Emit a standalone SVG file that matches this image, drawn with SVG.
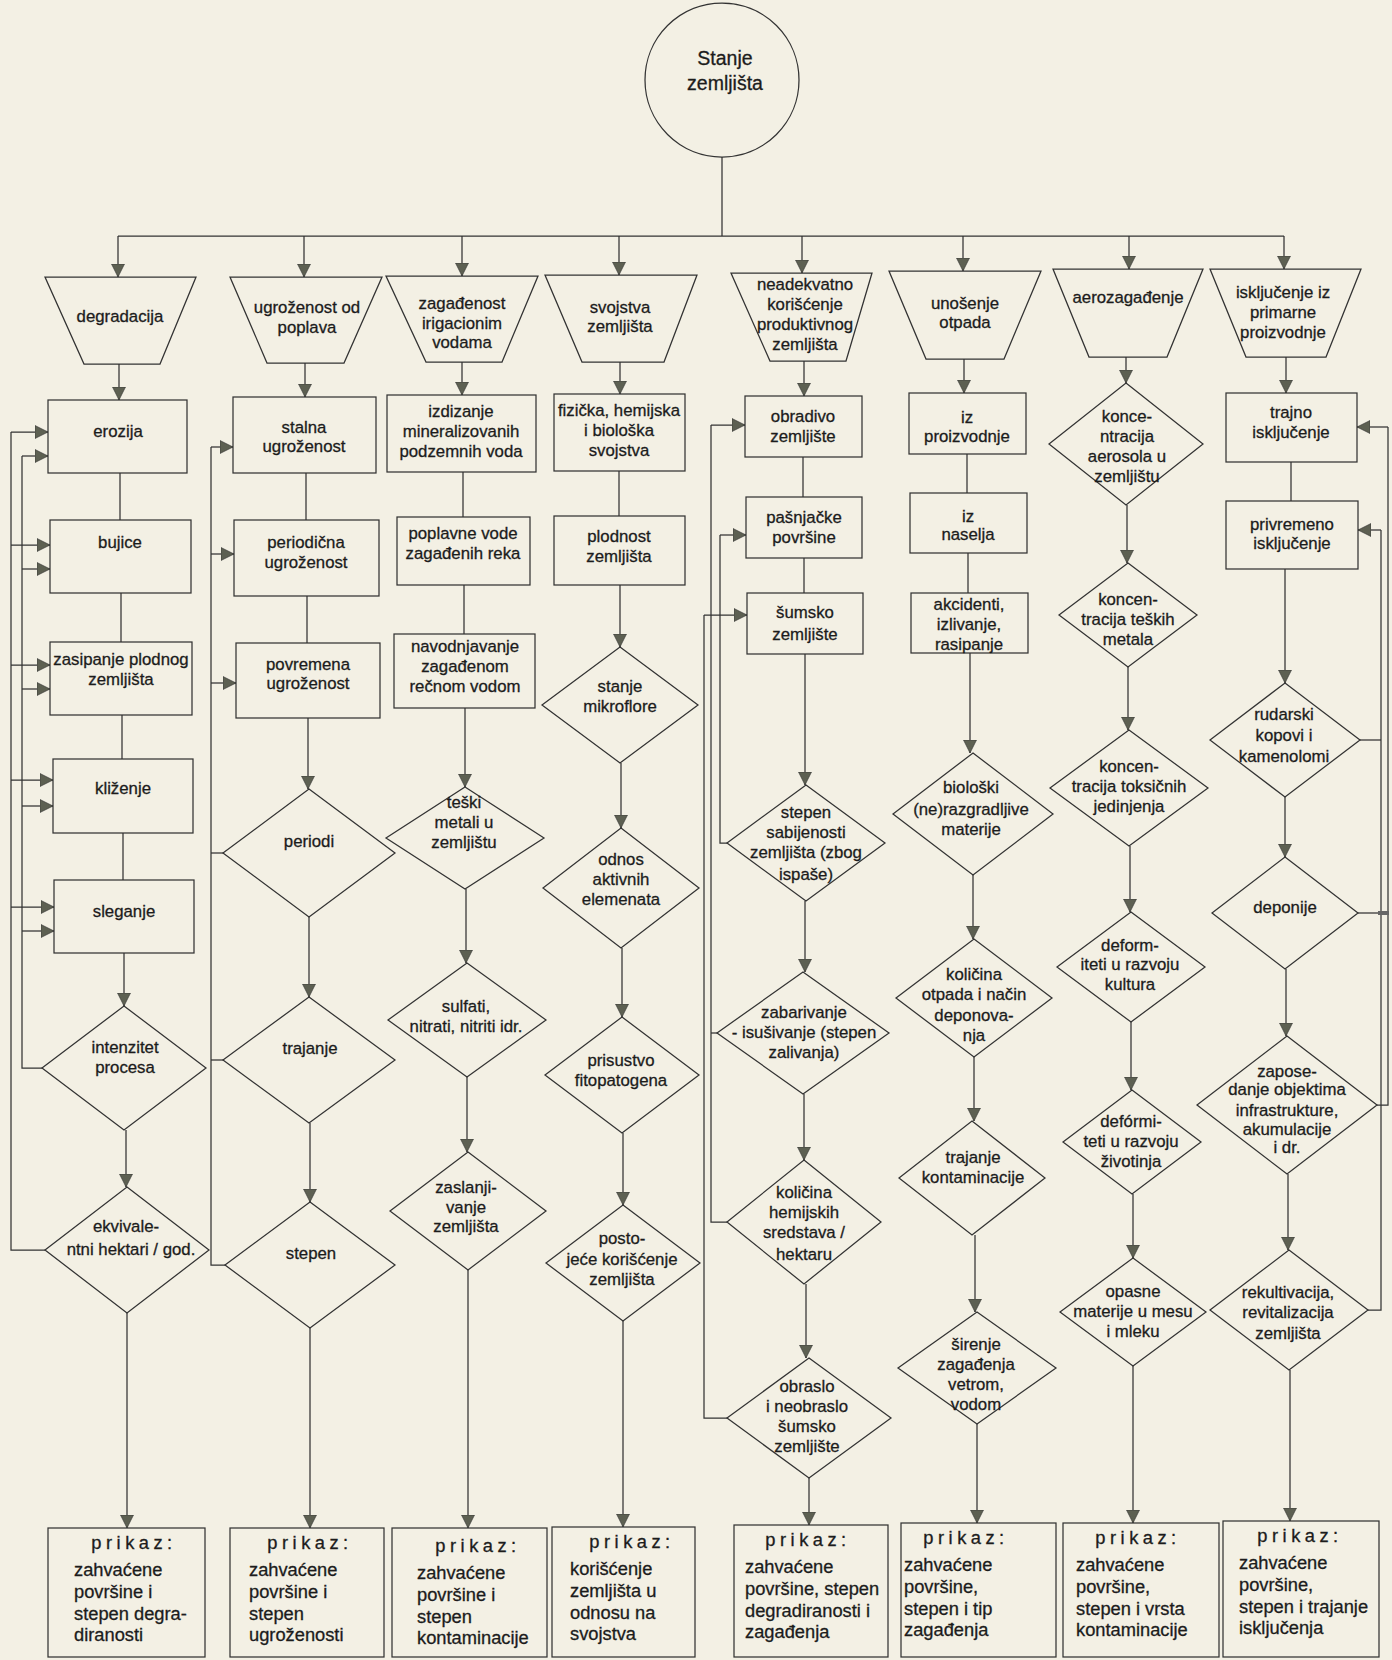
<svg xmlns="http://www.w3.org/2000/svg" width="1392" height="1660" viewBox="0 0 1392 1660">
<defs>
<marker id="ah" markerUnits="userSpaceOnUse" markerWidth="15" markerHeight="15" refX="13" refY="7" orient="auto"><path d="M0,0.5 L13,7 L0,13.5 z" fill="#5d6052" stroke="#333" stroke-width="0.6"/></marker>
<style>
rect.bg{fill:#f3f0e4;stroke:none}
.s{fill:none;stroke:#333;stroke-width:1.25}
#connectors path{fill:none;stroke:#333;stroke-width:1.25}
#connectors path.a{marker-end:url(#ah)}
text{font-family:"Liberation Sans",Arial,sans-serif;font-size:16.8px;fill:#1c1c1c;stroke:#1c1c1c;stroke-width:0.3;text-anchor:middle}
text.big{font-size:19.5px}
text.h{font-size:18.3px;letter-spacing:4.5px}
text.p{font-size:18.3px;text-anchor:start}
</style>
</defs>
<rect class="bg" x="0" y="0" width="1392" height="1660"/>

<g id="connectors">
<path d="M722,157 V236"/>
<path d="M118,236 H1284"/>
<path class="a" d="M118,236 V277"/>
<path class="a" d="M304,236 V277"/>
<path class="a" d="M462,236 V276"/>
<path class="a" d="M619,236 V275"/>
<path class="a" d="M802,236 V273"/>
<path class="a" d="M963,236 V271"/>
<path class="a" d="M1129,236 V269"/>
<path class="a" d="M1284,236 V269"/>

<path class="a" d="M119,364 V400"/>
<path class="a" d="M305,363 V397"/>
<path class="a" d="M462,362 V395"/>
<path class="a" d="M620,362 V394"/>
<path class="a" d="M804,361 V396"/>
<path class="a" d="M964,359 V393"/>
<path class="a" d="M1126,357 V383"/>
<path class="a" d="M1286,357 V393"/>

<path d="M120,473 V520"/>
<path d="M121,593 V642"/>
<path d="M122,715 V759"/>
<path d="M123,833 V880"/>
<path class="a" d="M124,953 V1006"/>
<path class="a" d="M126,1130 V1187"/>
<path class="a" d="M127,1313 V1528"/>

<path d="M306,473 V520"/>
<path d="M307,596 V643"/>
<path class="a" d="M308,718 V789"/>
<path class="a" d="M309,917 V997"/>
<path class="a" d="M310,1123 V1202"/>
<path class="a" d="M310,1328 V1528"/>

<path d="M463,472 V517"/>
<path d="M464,585 V634"/>
<path class="a" d="M465,708 V787"/>
<path class="a" d="M466,889 V963"/>
<path class="a" d="M467,1077 V1152"/>
<path class="a" d="M468,1270 V1528"/>

<path d="M619,471 V516"/>
<path class="a" d="M620,585 V647"/>
<path class="a" d="M621,763 V828"/>
<path class="a" d="M622,948 V1017"/>
<path class="a" d="M623,1133 V1205"/>
<path class="a" d="M623,1321 V1527"/>

<path d="M803,457 V497"/>
<path d="M804,558 V593"/>
<path class="a" d="M805,654 V785"/>
<path class="a" d="M805,901 V972"/>
<path class="a" d="M804,1094 V1160"/>
<path class="a" d="M806,1284 V1358"/>
<path class="a" d="M809,1478 V1525"/>

<path d="M967,454 V493"/>
<path d="M968,553 V593"/>
<path class="a" d="M970,653 V753"/>
<path class="a" d="M973,875 V939"/>
<path class="a" d="M974,1057 V1121"/>
<path class="a" d="M975,1235 V1312"/>
<path class="a" d="M977,1424 V1523"/>

<path class="a" d="M1127,505 V563"/>
<path class="a" d="M1128,667 V730"/>
<path class="a" d="M1130,846 V912"/>
<path class="a" d="M1131,1022 V1090"/>
<path class="a" d="M1133,1194 V1258"/>
<path class="a" d="M1133,1366 V1523"/>

<path d="M1291,462 V501"/>
<path class="a" d="M1285,569 V683"/>
<path class="a" d="M1285,797 V857"/>
<path class="a" d="M1286,969 V1036"/>
<path class="a" d="M1288,1174 V1250"/>
<path class="a" d="M1290,1370 V1521"/>

<path d="M45,1250 H11 V432"/>
<path class="a" d="M11,432 H48"/>
<path class="a" d="M11,545 H50"/>
<path class="a" d="M11,665 H50"/>
<path class="a" d="M11,780 H53"/>
<path class="a" d="M11,907 H54"/>
<path d="M42,1068 H22 V456"/>
<path class="a" d="M22,456 H48"/>
<path class="a" d="M22,569 H50"/>
<path class="a" d="M22,689 H50"/>
<path class="a" d="M22,806 H53"/>
<path class="a" d="M22,931 H54"/>

<path d="M223,853 H211"/>
<path d="M223,1060 H211"/>
<path d="M225,1265 H211 V447"/>
<path class="a" d="M211,447 H233"/>
<path class="a" d="M211,554 H234"/>
<path class="a" d="M211,683 H236"/>

<path d="M727,843 H720 V535"/>
<path class="a" d="M720,535 H746"/>
<path d="M717,1033 H711"/>
<path d="M727,1222 H711 V425"/>
<path class="a" d="M711,425 H745"/>
<path d="M727,1418 H704 V615"/>
<path class="a" d="M704,615 H747"/>

<path d="M1377,1105 H1388 V427"/>
<path class="a" d="M1388,427 H1357"/>
<path d="M1368,1310 H1381 V530"/>
<path class="a" d="M1381,530 H1358"/>
<path d="M1360,740 H1381"/>
<path d="M1358,913 H1388"/>
<rect x="1378" y="911" width="11" height="4" fill="#666"/>
</g>

<g id="n-stanje"><circle class="s" cx="722" cy="80" r="77"/><text class="big" x="725" y="65">Stanje</text><text class="big" x="725" y="90">zemljišta</text></g>

<g id="n-degradacija"><polygon class="s" points="45,277 196,277 160,364 84,364"/><text x="120" y="322">degradacija</text></g>
<g id="n-ugrozenost"><polygon class="s" points="230,277 382,277 344,363 267,363"/><text x="307" y="313">ugroženost od</text><text x="307" y="333">poplava</text></g>
<g id="n-zagadjenost"><polygon class="s" points="386,276 538,276 502,362 426,362"/><text x="462" y="309">zagađenost</text><text x="462" y="329">irigacionim</text><text x="462" y="348">vodama</text></g>
<g id="n-svojstva"><polygon class="s" points="545,275 697,275 664,362 582,362"/><text x="620" y="313">svojstva</text><text x="620" y="332">zemljišta</text></g>
<g id="n-neadekvatno"><polygon class="s" points="731,273 872,273 846,361 770,361"/><text x="805" y="290">neadekvatno</text><text x="805" y="310">korišćenje</text><text x="805" y="330">produktivnog</text><text x="805" y="350">zemljišta</text></g>
<g id="n-unosenje"><polygon class="s" points="889,271 1041,271 1004,359 926,359"/><text x="965" y="309">unošenje</text><text x="965" y="328">otpada</text></g>
<g id="n-aero"><polygon class="s" points="1053,269 1203,269 1167,357 1089,357"/><text x="1128" y="303">aerozagađenje</text></g>
<g id="n-iskljucenje"><polygon class="s" points="1210,269 1361,269 1326,357 1246,357"/><text x="1283" y="298">isključenje iz</text><text x="1283" y="318">primarne</text><text x="1283" y="338">proizvodnje</text></g>

<g id="n-erozija"><rect class="s" x="48" y="400" width="139" height="73"/><text x="118" y="437">erozija</text></g>
<g id="n-bujice"><rect class="s" x="50" y="520" width="141" height="73"/><text x="120" y="548">bujice</text></g>
<g id="n-zasipanje"><rect class="s" x="50" y="642" width="142" height="73"/><text x="121" y="665">zasipanje plodnog</text><text x="121" y="685">zemljišta</text></g>
<g id="n-klizenje"><rect class="s" x="53" y="759" width="140" height="74"/><text x="123" y="794">kliženje</text></g>
<g id="n-sleganje"><rect class="s" x="54" y="880" width="140" height="73"/><text x="124" y="917">sleganje</text></g>
<g id="n-intenzitet"><polygon class="s" points="124,1006 206,1068 124,1130 42,1068"/><text x="125" y="1053">intenzitet</text><text x="125" y="1073">procesa</text></g>
<g id="n-ekvivalentni"><polygon class="s" points="127,1187 209,1250 127,1313 45,1250"/><text x="126" y="1232">ekvivale-</text><text x="131" y="1255">ntni hektari / god.</text></g>
<g id="n-prikaz1"><rect class="s" x="48" y="1528" width="157" height="129"/><text class="h" x="134" y="1549">prikaz:</text><text class="p" x="74" y="1576">zahvaćene</text><text class="p" x="74" y="1598">površine i</text><text class="p" x="74" y="1620">stepen degra-</text><text class="p" x="74" y="1641">diranosti</text></g>

<g id="n-stalna"><rect class="s" x="233" y="397" width="143" height="76"/><text x="304" y="433">stalna</text><text x="304" y="452">ugroženost</text></g>
<g id="n-periodicna"><rect class="s" x="234" y="520" width="145" height="76"/><text x="306" y="548">periodična</text><text x="306" y="568">ugroženost</text></g>
<g id="n-povremena"><rect class="s" x="236" y="643" width="144" height="75"/><text x="308" y="670">povremena</text><text x="308" y="689">ugroženost</text></g>
<g id="n-periodi"><polygon class="s" points="309,789 395,853 309,917 223,853"/><text x="309" y="847">periodi</text></g>
<g id="n-trajanje"><polygon class="s" points="309,997 395,1060 309,1123 223,1060"/><text x="310" y="1054">trajanje</text></g>
<g id="n-stepen"><polygon class="s" points="310,1202 395,1265 310,1328 225,1265"/><text x="311" y="1259">stepen</text></g>
<g id="n-prikaz2"><rect class="s" x="230" y="1528" width="154" height="129"/><text class="h" x="310" y="1549">prikaz:</text><text class="p" x="249" y="1576">zahvaćene</text><text class="p" x="249" y="1598">površine i</text><text class="p" x="249" y="1620">stepen</text><text class="p" x="249" y="1641">ugroženosti</text></g>

<g id="n-izdizanje"><rect class="s" x="387" y="395" width="149" height="77"/><text x="461" y="417">izdizanje</text><text x="461" y="437">mineralizovanih</text><text x="461" y="457">podzemnih voda</text></g>
<g id="n-poplavne"><rect class="s" x="397" y="517" width="133" height="68"/><text x="463" y="539">poplavne vode</text><text x="463" y="559">zagađenih reka</text></g>
<g id="n-navodnjavanje"><rect class="s" x="394" y="634" width="141" height="74"/><text x="465" y="652">navodnjavanje</text><text x="465" y="672">zagađenom</text><text x="465" y="692">rečnom vodom</text></g>
<g id="n-teski"><polygon class="s" points="465,787 544,838 465,889 386,838"/><text x="464" y="808">teški</text><text x="464" y="828">metali u</text><text x="464" y="848">zemljištu</text></g>
<g id="n-sulfati"><polygon class="s" points="467,963 546,1020 467,1077 388,1020"/><text x="466" y="1012">sulfati,</text><text x="466" y="1032">nitrati, nitriti idr.</text></g>
<g id="n-zaslanjivanje"><polygon class="s" points="468,1152 546,1211 468,1270 390,1211"/><text x="466" y="1193">zaslanji-</text><text x="466" y="1213">vanje</text><text x="466" y="1232">zemljišta</text></g>
<g id="n-prikaz3"><rect class="s" x="392" y="1528" width="155" height="129"/><text class="h" x="478" y="1552">prikaz:</text><text class="p" x="417" y="1579">zahvaćene</text><text class="p" x="417" y="1601">površine i</text><text class="p" x="417" y="1623">stepen</text><text class="p" x="417" y="1644">kontaminacije</text></g>

<g id="n-fizicka"><rect class="s" x="554" y="394" width="131" height="77"/><text x="619" y="416">fizička, hemijska</text><text x="619" y="436">i biološka</text><text x="619" y="456">svojstva</text></g>
<g id="n-plodnost"><rect class="s" x="554" y="516" width="131" height="69"/><text x="619" y="542">plodnost</text><text x="619" y="562">zemljišta</text></g>
<g id="n-mikroflora"><polygon class="s" points="620,647 698,705 620,763 542,705"/><text x="620" y="692">stanje</text><text x="620" y="712">mikroflore</text></g>
<g id="n-odnos"><polygon class="s" points="621,828 699,888 621,948 543,888"/><text x="621" y="865">odnos</text><text x="621" y="885">aktivnih</text><text x="621" y="905">elemenata</text></g>
<g id="n-prisustvo"><polygon class="s" points="622,1017 699,1075 622,1133 545,1075"/><text x="621" y="1066">prisustvo</text><text x="621" y="1086">fitopatogena</text></g>
<g id="n-postojece"><polygon class="s" points="623,1205 700,1263 623,1321 546,1263"/><text x="622" y="1244">posto-</text><text x="622" y="1265">jeće korišćenje</text><text x="622" y="1285">zemljišta</text></g>
<g id="n-prikaz4"><rect class="s" x="552" y="1527" width="143" height="130"/><text class="h" x="632" y="1548">prikaz:</text><text class="p" x="570" y="1575">korišćenje</text><text class="p" x="570" y="1597">zemljišta u</text><text class="p" x="570" y="1619">odnosu na</text><text class="p" x="570" y="1640">svojstva</text></g>

<g id="n-obradivo"><rect class="s" x="745" y="396" width="117" height="61"/><text x="803" y="422">obradivo</text><text x="803" y="442">zemljište</text></g>
<g id="n-pasnjacke"><rect class="s" x="746" y="497" width="116" height="61"/><text x="804" y="523">pašnjačke</text><text x="804" y="543">površine</text></g>
<g id="n-sumsko"><rect class="s" x="747" y="593" width="116" height="61"/><text x="805" y="618">šumsko</text><text x="805" y="640">zemljište</text></g>
<g id="n-sabijenost"><polygon class="s" points="806,785 885,843 806,901 727,843"/><text x="806" y="818">stepen</text><text x="806" y="838">sabijenosti</text><text x="806" y="858">zemljišta (zbog</text><text x="806" y="880">ispaše)</text></g>
<g id="n-zabarivanje"><polygon class="s" points="803,972 889,1033 803,1094 717,1033"/><text x="804" y="1018">zabarivanje</text><text x="804" y="1038">- isušivanje (stepen</text><text x="804" y="1058">zalivanja)</text></g>
<g id="n-hemijska"><polygon class="s" points="804,1160 881,1222 804,1284 727,1222"/><text x="804" y="1198">količina</text><text x="804" y="1218">hemijskih</text><text x="804" y="1238">sredstava /</text><text x="804" y="1260">hektaru</text></g>
<g id="n-obraslo"><polygon class="s" points="809,1358 891,1418 809,1478 727,1418"/><text x="807" y="1392">obraslo</text><text x="807" y="1412">i neobraslo</text><text x="807" y="1432">šumsko</text><text x="807" y="1452">zemljište</text></g>
<g id="n-prikaz5"><rect class="s" x="734" y="1525" width="154" height="132"/><text class="h" x="808" y="1546">prikaz:</text><text class="p" x="745" y="1573">zahvaćene</text><text class="p" x="745" y="1595">površine, stepen</text><text class="p" x="745" y="1617">degradiranosti i</text><text class="p" x="745" y="1638">zagađenja</text></g>

<g id="n-izproizvodnje"><rect class="s" x="909" y="393" width="117" height="61"/><text x="967" y="423">iz</text><text x="967" y="442">proizvodnje</text></g>
<g id="n-iznaselja"><rect class="s" x="910" y="493" width="117" height="60"/><text x="968" y="522">iz</text><text x="968" y="540">naselja</text></g>
<g id="n-akcidenti"><rect class="s" x="911" y="593" width="117" height="60"/><text x="969" y="610">akcidenti,</text><text x="969" y="630">izlivanje,</text><text x="969" y="650">rasipanje</text></g>
<g id="n-bioloski"><polygon class="s" points="973,753 1053,814 973,875 893,814"/><text x="971" y="793">biološki</text><text x="971" y="815">(ne)razgradljive</text><text x="971" y="835">materije</text></g>
<g id="n-kolicinaotpada"><polygon class="s" points="974,939 1052,998 974,1057 896,998"/><text x="974" y="980">količina</text><text x="974" y="1000">otpada i način</text><text x="974" y="1021">deponova-</text><text x="974" y="1041">nja</text></g>
<g id="n-trajanjekont"><polygon class="s" points="972,1121 1045,1178 972,1235 899,1178"/><text x="973" y="1163">trajanje</text><text x="973" y="1183">kontaminacije</text></g>
<g id="n-sirenje"><polygon class="s" points="977,1312 1056,1368 977,1424 898,1368"/><text x="976" y="1350">širenje</text><text x="976" y="1370">zagađenja</text><text x="976" y="1390">vetrom,</text><text x="976" y="1410">vodom</text></g>
<g id="n-prikaz6"><rect class="s" x="901" y="1523" width="155" height="134"/><text class="h" x="966" y="1544">prikaz:</text><text class="p" x="904" y="1571">zahvaćene</text><text class="p" x="904" y="1593">površine,</text><text class="p" x="904" y="1615">stepen i tip</text><text class="p" x="904" y="1636">zagađenja</text></g>

<g id="n-aerosoli"><polygon class="s" points="1126,383 1203,444 1126,505 1049,444"/><text x="1127" y="422">konce-</text><text x="1127" y="442">ntracija</text><text x="1127" y="462">aerosola u</text><text x="1127" y="482">zemljištu</text></g>
<g id="n-teskimetali"><polygon class="s" points="1128,563 1197,615 1128,667 1059,615"/><text x="1128" y="605">koncen-</text><text x="1128" y="625">tracija teških</text><text x="1128" y="645">metala</text></g>
<g id="n-toksicna"><polygon class="s" points="1129,730 1208,788 1129,846 1050,788"/><text x="1129" y="772">koncen-</text><text x="1129" y="792">tracija toksičnih</text><text x="1129" y="812">jedinjenja</text></g>
<g id="n-kulture"><polygon class="s" points="1131,912 1205,967 1131,1022 1057,967"/><text x="1130" y="951">deform-</text><text x="1130" y="970">iteti u razvoju</text><text x="1130" y="990">kultura</text></g>
<g id="n-zivotinje"><polygon class="s" points="1132,1090 1201,1142 1132,1194 1063,1142"/><text x="1131" y="1127">defórmi-</text><text x="1131" y="1147">teti u razvoju</text><text x="1131" y="1167">životinja</text></g>
<g id="n-opasne"><polygon class="s" points="1133,1258 1206,1312 1133,1366 1060,1312"/><text x="1133" y="1297">opasne</text><text x="1133" y="1317">materije u mesu</text><text x="1133" y="1337">i mleku</text></g>
<g id="n-prikaz7"><rect class="s" x="1063" y="1523" width="156" height="134"/><text class="h" x="1138" y="1544">prikaz:</text><text class="p" x="1076" y="1571">zahvaćene</text><text class="p" x="1076" y="1593">površine,</text><text class="p" x="1076" y="1615">stepen i vrsta</text><text class="p" x="1076" y="1636">kontaminacije</text></g>

<g id="n-trajno"><rect class="s" x="1226" y="393" width="131" height="69"/><text x="1291" y="418">trajno</text><text x="1291" y="438">isključenje</text></g>
<g id="n-privremeno"><rect class="s" x="1226" y="501" width="132" height="68"/><text x="1292" y="530">privremeno</text><text x="1292" y="549">isključenje</text></g>
<g id="n-rudarski"><polygon class="s" points="1285,683 1360,740 1285,797 1210,740"/><text x="1284" y="720">rudarski</text><text x="1284" y="741">kopovi i</text><text x="1284" y="762">kamenolomi</text></g>
<g id="n-deponije"><polygon class="s" points="1285,857 1358,913 1285,969 1212,913"/><text x="1285" y="913">deponije</text></g>
<g id="n-zaposedanje"><polygon class="s" points="1287,1036 1377,1105 1287,1174 1197,1105"/><text x="1287" y="1077">zapose-</text><text x="1287" y="1095">danje objektima</text><text x="1287" y="1116">infrastrukture,</text><text x="1287" y="1135">akumulacije</text><text x="1287" y="1153">i dr.</text></g>
<g id="n-rekultivacija"><polygon class="s" points="1289,1250 1368,1310 1289,1370 1210,1310"/><text x="1288" y="1298">rekultivacija,</text><text x="1288" y="1318">revitalizacija</text><text x="1288" y="1339">zemljišta</text></g>
<g id="n-prikaz8"><rect class="s" x="1223" y="1521" width="156" height="136"/><text class="h" x="1300" y="1542">prikaz:</text><text class="p" x="1239" y="1569">zahvaćene</text><text class="p" x="1239" y="1591">površine,</text><text class="p" x="1239" y="1613">stepen i trajanje</text><text class="p" x="1239" y="1634">isključenja</text></g>
</svg>
